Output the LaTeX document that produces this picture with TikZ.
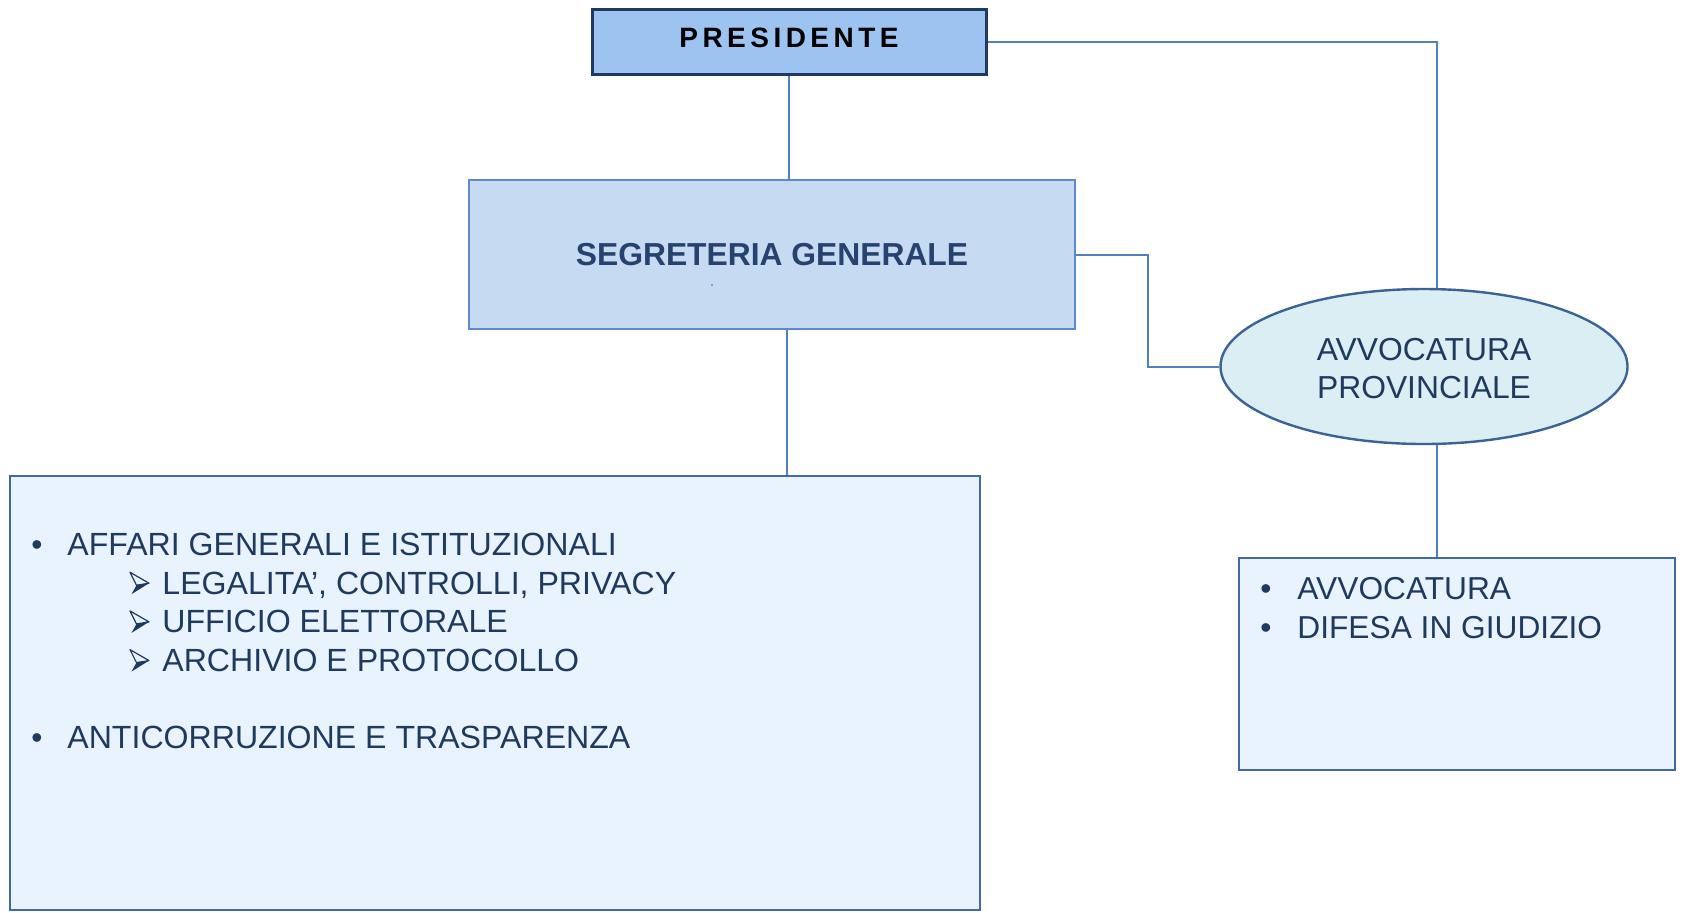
\documentclass[tikz,border=0pt]{standalone}
\usepackage{fontspec}
\setmainfont{Liberation Sans}
\newfontfamily\presfont[LetterSpace=16]{Liberation Sans}
\usetikzlibrary{shapes.geometric,calc}
\definecolor{presfill}{HTML}{9DC3F1}
\definecolor{presdraw}{HTML}{1F3A60}
\definecolor{segfill}{HTML}{C6DBF2}
\definecolor{segdraw}{HTML}{5D8ACD}
\definecolor{ellfill}{HTML}{DAEEF4}
\definecolor{elldraw}{HTML}{3B6396}
\definecolor{boxfill}{HTML}{E9F3FE}
\definecolor{boxdraw}{HTML}{4069A5}
\definecolor{linec}{HTML}{5080C0}
\definecolor{navy}{HTML}{1F3A5F}
\definecolor{segtext}{HTML}{264370}
\newcommand\subarrowmark[1]{%
  \fill[navy] (136.5,#1-9) -- (149,#1-11) -- (131.5,#1) -- cycle;
  \draw[navy,line width=0.6pt,line join=round] (130,#1-22) -- (149,#1-11) -- (136.5,#1-9) -- cycle;
}
\begin{document}
\begin{tikzpicture}[x=0.5pt,y=-0.5pt,
  presbox/.style={draw=presdraw,fill=presfill,line width=1.5pt,minimum width=197pt,minimum height=32.5pt,inner sep=0pt},
  prestextstyle/.style={inner sep=0pt,font=\presfont\bfseries\fontsize{14pt}{16pt}\selectfont,text=black},
  segbox/.style={draw=segdraw,fill=segfill,line width=1.2pt,minimum width=303pt,minimum height=74.5pt,inner sep=0pt,
    font=\bfseries\fontsize{15.9pt}{19pt}\selectfont,text=segtext},
  ellbox/.style={ellipse,draw=elldraw,fill=ellfill,line width=1.2pt,minimum width=203.5pt,minimum height=77.5pt,inner sep=0pt},
  elltextstyle/.style={align=center,inner sep=0pt,font=\fontsize{15.9pt}{19pt}\selectfont,text=navy},
  listbox/.style={draw=boxdraw,fill=boxfill,line width=1.2pt,inner sep=0pt},
  conn/.style={draw=linec,line width=1pt},
  itemtext/.style={anchor=base west,inner sep=0pt,font=\fontsize{16.05pt}{19pt}\selectfont,text=navy},
  bullet/.style={anchor=base,inner sep=0pt,font=\fontsize{15.9pt}{19pt}\selectfont,text=navy},
  ritemtext/.style={anchor=base west,inner sep=0pt,font=\fontsize{15.85pt}{19pt}\selectfont,text=navy}
]
\useasboundingbox (0,0) rectangle (1686,912);

% boxes
\node[presbox] (pres) at (789,41.5) {};
\node[prestextstyle] (prestext) at (789,37.8) {PRESIDENTE};
\node[segbox] (seg) at (772,254.5) {SEGRETERIA GENERALE};
\node[ellbox] (ell) at (1424,366.5) {};
\node[elltextstyle] (elltext) at (1424,369) {AVVOCATURA\\PROVINCIALE};
\node[listbox,minimum width=485pt,minimum height=217pt] (left) at (495,693) {};
\node[listbox,minimum width=218pt,minimum height=106pt] (right) at (1457,664) {};

% connectors
\coordinate (pr) at ($(ell.north)+(13,0)$);
\coordinate (segs) at ($(seg.south)+(15,0)$);
\coordinate (ells) at ($(ell.south)+(13,0)$);
\coordinate (bend) at (1148,300);
\draw[conn] (pres.south) -- (pres.south |- seg.north);
\draw[conn] (pres.east) -| (pr);
\draw[conn] (seg.east) -| (bend) |- (ell.west);
\draw[conn] (segs) -- (segs |- left.north);
\draw[conn] (ells) -- (ells |- right.north);

% stray dot
\fill[segdraw] (712,285) circle (0.6pt);

% left list
\node[bullet] (b1) at (37,555.5) {•};
\node[itemtext] (t1) at (67,555.5) {AFFARI GENERALI E ISTITUZIONALI};
\subarrowmark{594.2}
\node[itemtext] (t2) at (162,594.2) {LEGALITA’, CONTROLLI, PRIVACY};
\subarrowmark{632.9}
\node[itemtext] (t3) at (162,632.9) {UFFICIO ELETTORALE};
\subarrowmark{671.6}
\node[itemtext] (t4) at (162,671.6) {ARCHIVIO E PROTOCOLLO};
\node[bullet] (b2) at (37,748) {•};
\node[itemtext] (t5) at (67,748) {ANTICORRUZIONE E TRASPARENZA};

% right list
\node[bullet] (b3) at (1266,599.6) {•};
\node[ritemtext] (t6) at (1297,599.6) {AVVOCATURA};
\node[bullet] (b4) at (1266,638.3) {•};
\node[ritemtext] (t7) at (1297,638.3) {DIFESA IN GIUDIZIO};
\end{tikzpicture}
\end{document}
